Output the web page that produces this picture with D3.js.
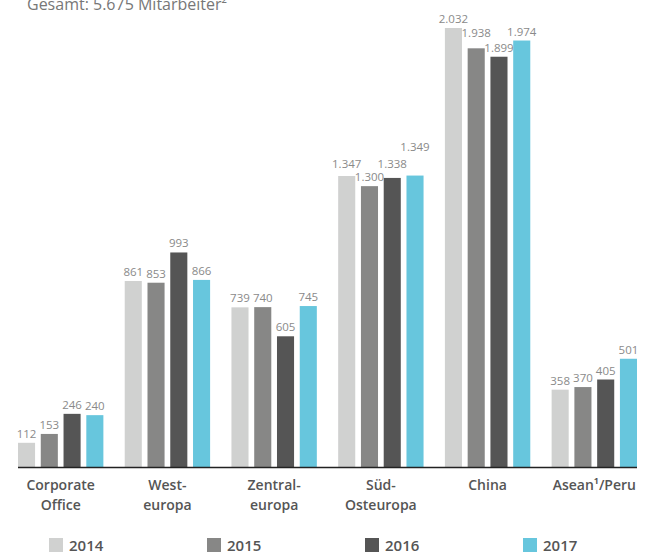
<!DOCTYPE html>
<html lang="de">
<head>
    <meta charset="UTF-8">
    <title>Mitarbeiter nach Regionen</title>
    <style>
        body { margin: 0; background: #fff; }
        #chart { width: 649px; height: 556px; }
        text { font-family: "Open Sans", sans-serif; }
    </style>
</head>
<body>
    <div id="chart"></div>

    <script src="https://d3js.org/d3.v7.min.js"></script>
    <script>
        // Daten
        const categories = [
            ['Corporate', 'Office'],
            ['West-', 'europa'],
            ['Zentral-', 'europa'],
            ['Süd-', 'Osteuropa'],
            ['China'],
            ['Asean¹/Peru']
        ]
        const years = ['2014', '2015', '2016', '2017']
        const values2014 = [112, 861, 739, 1347, 2032, 358]
        const values2015 = [153, 853, 740, 1300, 1938, 370]
        const values2016 = [246, 993, 605, 1338, 1899, 405]
        const values2017 = [240, 866, 745, 1349, 1974, 501]
        const titleText = 'Gesamt: 5.675 Mitarbeiter²'

        const series = [values2014, values2015, values2016, values2017]
        const colors = ['#d0d1d0', '#878786', '#555555', '#67c6dd']

        // labels that sit higher in the original to avoid overlapping (px)
        const labelLift = { '3-0': 3, '3-2': 5, '3-3': 20, '4-1': 6 }

        const width = 649
        const height = 556
        const baseline = 467

        const de = d3.formatLocale({ decimal: ',', thousands: '.', grouping: [3], currency: ['', '€'] })
        const fmt = de.format(',d')

        const svg = d3.select('#chart')
            .append('svg')
            .attr('width', width)
            .attr('height', height)

        const x0 = d3.scaleBand()
            .domain(d3.range(categories.length))
            .range([18, 637])
            .paddingInner(0.2)
            .paddingOuter(0)

        const x1 = d3.scaleBand()
            .domain(d3.range(years.length))
            .range([0, x0.bandwidth()])
            .paddingInner(0.25)
            .paddingOuter(0)

        const y = d3.scaleLinear()
            .domain([0, d3.max(series, s => d3.max(s))])
            .range([baseline, 28])

        // Titel (oben angeschnitten wie im Original)
        svg.append('text')
            .attr('x', 27)
            .attr('y', 10)
            .attr('fill', '#777')
            .style('font-size', '16px')
            .text(titleText)

        const groups = svg.append('g')
            .selectAll('g')
            .data(categories)
            .join('g')
            .attr('transform', (d, i) => `translate(${x0(i)},0)`)

        groups.each(function (cat, ci) {
            const g = d3.select(this)
            const rows = series.map((s, si) => ({ si: si, v: s[ci] }))

            g.selectAll('rect')
                .data(rows)
                .join('rect')
                .attr('x', d => x1(d.si))
                .attr('y', d => y(d.v))
                .attr('width', x1.bandwidth())
                .attr('height', d => baseline - y(d.v))
                .attr('fill', d => colors[d.si])

            g.selectAll('text.value')
                .data(rows)
                .join('text')
                .attr('class', 'value')
                .attr('x', d => x1(d.si) + x1.bandwidth() / 2)
                .attr('y', d => y(d.v) - 5 - (labelLift[ci + '-' + d.si] || 0))
                .attr('text-anchor', 'middle')
                .attr('fill', '#8a8a8a')
                .style('font-size', '11.5px')
                .text(d => fmt(d.v))

            const label = g.append('text')
                .attr('text-anchor', 'middle')
                .attr('fill', '#555')
                .style('font-size', '14px')
                .style('font-weight', 600)
            cat.forEach((line, li) => {
                label.append('tspan')
                    .attr('x', x0.bandwidth() / 2)
                    .attr('y', 490 + li * 20)
                    .text(line)
            })
        })

        // Grundlinie
        svg.append('line')
            .attr('x1', x0.range()[0])
            .attr('x2', x0.range()[1])
            .attr('y1', baseline + 0.5)
            .attr('y2', baseline + 0.5)
            .attr('stroke', '#222')
            .attr('stroke-width', 1.5)

        // Legende
        const legend = svg.append('g')
            .selectAll('g')
            .data(years)
            .join('g')
            .attr('transform', (d, i) => `translate(${49 + i * 158},538)`)

        legend.append('rect')
            .attr('width', 14)
            .attr('height', 14)
            .attr('fill', (d, i) => colors[i])

        legend.append('text')
            .attr('x', 20)
            .attr('y', 13)
            .attr('fill', '#555')
            .style('font-size', '15px')
            .style('font-weight', 600)
            .text(d => d)
    </script>
</body>
</html>
